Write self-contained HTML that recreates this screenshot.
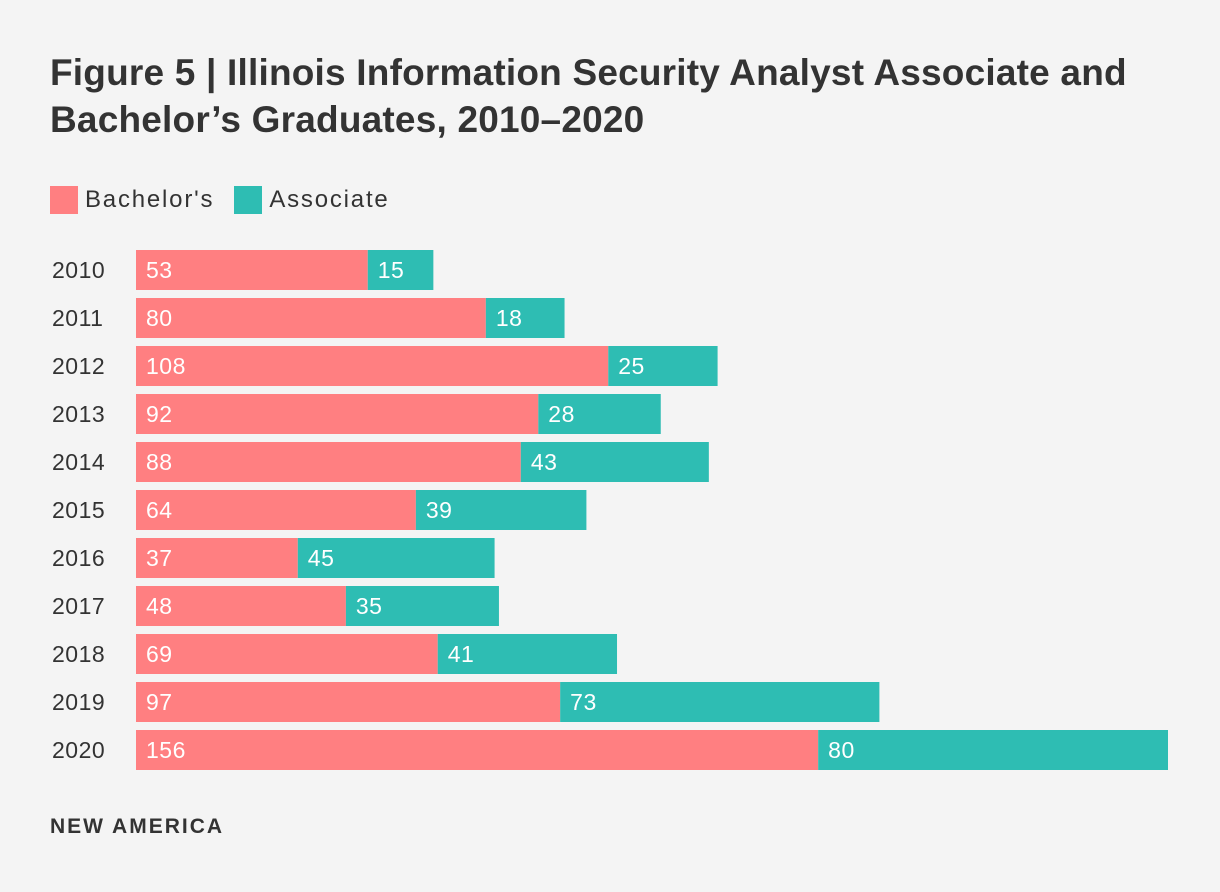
<!DOCTYPE html>
<html><head><meta charset="utf-8"><style>
html,body{margin:0;padding:0;background:#f4f4f4;}
body{width:1220px;height:892px;position:relative;overflow:hidden;font-family:"Liberation Sans",sans-serif;color:#333;}
.title{position:absolute;left:50px;top:49px;font-size:37px;font-weight:bold;line-height:47px;color:#333;letter-spacing:0.2px;white-space:nowrap;}
.legend{position:absolute;left:50px;top:186px;font-size:24px;display:flex;align-items:center;color:#333;letter-spacing:1.8px;}
.sw{width:28px;height:28px;display:inline-block;margin-right:7px;}
.foot{position:absolute;left:50px;top:815px;font-size:21px;font-weight:bold;color:#333;letter-spacing:2px;}
</style></head><body>
<div class="title">Figure 5 | Illinois Information Security Analyst Associate and<br>Bachelor’s Graduates, 2010–2020</div>
<div class="legend">
<span class="sw" style="background:#ff7f81"></span><span style="margin-right:20px">Bachelor's</span>
<span class="sw" style="background:#2ebdb3"></span><span>Associate</span>
</div>
<svg id="chart" width="1220" height="892" style="position:absolute;left:0;top:0"></svg>
<div class="foot">NEW AMERICA</div>
<script>
const years=["2010","2011","2012","2013","2014","2015","2016","2017","2018","2019","2020"];
const bachelors=[53,80,108,92,88,64,37,48,69,97,156];
const associate=[15,18,25,28,43,39,45,35,41,73,80];
const svg=document.getElementById('chart');
const NS='http://www.w3.org/2000/svg';
const x0=136, maxTotal=236, xMaxPx=1168;
function xs(v){return v*(xMaxPx-x0)/maxTotal;}
function ys(i){return 250+i*48;}
const bh=40;
function mk(tag,attrs){const e=document.createElementNS(NS,tag);for(const k in attrs)e.setAttribute(k,attrs[k]);svg.appendChild(e);return e;}
years.forEach((y,i)=>{
  const t=mk('text',{x:52,y:ys(i)+bh/2+8,'font-size':23,'letter-spacing':0.5,fill:'#333','font-family':'Liberation Sans, sans-serif'});
  t.textContent=y;
  
  
  const wb=xs(bachelors[i]);
  const r1=mk('rect',{x:x0,y:ys(i),width:wb,height:bh,fill:'#ff7f81'});
  
  
  const wa=xs(associate[i]);
  const r2=mk('rect',{x:x0+wb,y:ys(i),width:wa,height:bh,fill:'#2ebdb3'});
  
  
  const l1=mk('text',{x:x0+10,y:ys(i)+bh/2+8,'font-size':23,'letter-spacing':0.5,fill:'#fff','font-family':'Liberation Sans, sans-serif'});
  l1.textContent=bachelors[i];
  
  
  const l2=mk('text',{x:x0+wb+10,y:ys(i)+bh/2+8,'font-size':23,'letter-spacing':0.5,fill:'#fff','font-family':'Liberation Sans, sans-serif'});
  l2.textContent=associate[i];
  
  
});
</script>
</body></html>
